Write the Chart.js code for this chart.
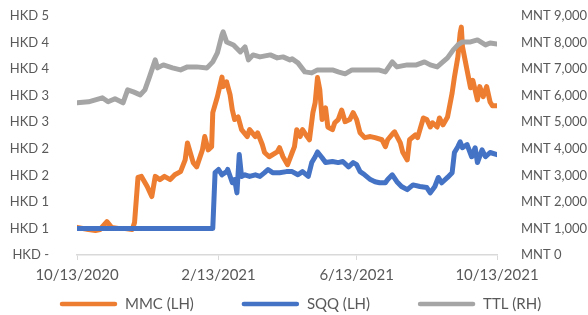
<!DOCTYPE html>
<html>
<head>
<meta charset="utf-8">
<script src="https://cdn.jsdelivr.net/npm/chart.js@4.4.1/dist/chart.umd.min.js"></script>
<style>
  body { margin: 0; background: #fff; }
  #wrap { width: 588px; height: 315px; }
</style>
</head>
<body>
<div id="wrap"><canvas id="chart" width="588" height="315"></canvas></div>
<script>
// days counted from 10/13/2020
const xTickDays = [0, 123, 243, 365];
const xTickLabels = ["10/13/2020", "2/13/2021", "6/13/2021", "10/13/2021"];

const mmcDays = [0,10,16,20,26,30,36,42,48,50,53,56,61,65,68,72,76,81,85,90,94,96,101,104,109,111,114,117,118,122,126,127,130,133,135,137,140,143,148,150,155,157,161,163,167,174,176,179,183,187,189,191,194,196,200,202,205,207,209,211,213,216,218,222,224,227,230,233,237,240,243,246,250,255,259,265,268,270,275,276,281,283,287,289,294,296,301,304,307,309,313,315,318,322,326,328,331,333,334,335,339,342,344,348,350,353,356,359,361,365];
const mmcValues = [0.52,0.48,0.46,0.48,0.63,0.52,0.50,0.50,0.48,0.61,
  1.46,1.48,1.29,1.10,1.48,1.42,1.48,1.42,1.51,1.57,
  1.79,2.11,1.74,1.66,1.98,2.23,1.98,2.04,2.68,2.98,
  3.35,3.17,3.26,3.02,2.73,2.55,2.60,2.36,2.23,2.36,
  2.23,2.30,2.08,1.93,1.85,1.94,2.02,1.85,1.70,1.93,
  2.04,2.36,2.23,2.36,2.23,2.17,2.68,2.87,3.34,3.11,
  2.55,2.77,2.41,2.36,2.49,2.55,2.73,2.51,2.55,2.68,
  2.55,2.30,2.21,2.23,2.21,2.17,2.04,2.17,2.30,2.32,
  2.11,1.94,1.79,2.17,2.26,2.21,2.58,2.55,2.41,2.49,
  2.41,2.58,2.45,2.60,3.05,3.35,3.73,4.18,4.29,3.92,
  3.48,3.15,3.29,2.92,3.17,2.98,3.17,2.88,2.81,2.81];

const sqqDays = [0,118,120,123,126,130,131,135,137,139,141,143,146,150,155,159,163,166,170,176,182,187,192,196,201,204,207,209,213,216,222,227,231,236,240,243,246,250,255,259,263,268,270,274,278,282,287,292,298,304,307,311,314,317,322,326,328,331,333,335,339,343,346,348,352,355,359,365];
const sqqValues = [0.5,0.5,1.55,1.61,1.51,1.57,1.61,1.36,1.42,1.17,1.89,1.48,1.51,1.48,1.51,1.48,1.55,1.61,1.55,1.55,
  1.57,1.57,1.51,1.57,1.48,1.74,1.85,1.94,1.83,1.74,1.76,1.74,1.76,1.66,1.74,1.70,1.57,1.51,1.42,1.38,
  1.36,1.36,1.42,1.51,1.38,1.29,1.23,1.32,1.29,1.27,1.17,1.29,1.46,1.36,1.46,1.55,1.93,2.04,2.13,2.02,
  2.08,1.85,2.02,1.74,1.98,1.85,1.93,1.89];

const ttlDays = [0,10,22,27,33,40,44,49,55,59,63,68,70,75,83,90,96,104,113,118,122,126,127,130,136,142,146,149,153,159,168,174,179,185,187,192,198,204,209,222,227,233,239,250,262,268,274,278,287,295,302,307,313,318,322,327,331,335,342,348,355,359,365];
const ttlValues = [5731,5769,5919,5769,5881,5731,6219,6144,6031,6219,
  6708,7347,7046,7159,7046,6971,7084,7084,7046,7272,
  7610,8287,8400,8024,7911,7648,7836,7347,7535,7460,
  7535,7422,7460,7347,7385,7234,6896,6858,6971,6971,
  6896,6821,6971,6971,6971,6896,7272,7084,7159,7159,
  7272,7159,7084,7272,7422,7723,7911,8024,8024,8099,
  7911,7986,7948];

const FONT = "Lato, 'Liberation Sans', sans-serif";
const TEXT = "#595959";

const toPoints = (days, values) => days.map((d, i) => ({ x: d, y: values[i] }));

const lineStyle = (color) => ({
  borderColor: color,
  backgroundColor: color,
  borderWidth: 5,
  pointRadius: 0,
  tension: 0,
  borderJoinStyle: "round",
  borderCapStyle: "round",
  fill: false,
});

// legend drawn by hand so spacing matches the Excel layout
const bottomLegend = {
  id: "bottomLegend",
  afterDraw(chart) {
    const ctx = chart.ctx;
    const items = [0, 1, 2].map((i) => chart.data.datasets[i]);
    const y = 304;
    let x = 62;
    ctx.save();
    ctx.font = "15px " + FONT;
    ctx.textBaseline = "middle";
    items.forEach((ds) => {
      ctx.strokeStyle = ds.borderColor;
      ctx.lineWidth = 4.5;
      ctx.lineCap = "round";
      ctx.beginPath();
      ctx.moveTo(x, y);
      ctx.lineTo(x + 53, y);
      ctx.stroke();
      ctx.fillStyle = TEXT;
      ctx.fillText(ds.label, x + 63, y);
      x += 63 + ctx.measureText(ds.label).width + 50;
    });
    ctx.restore();
  },
};

const fixY = (w) => (scale) => {
  scale.width = w;
  scale.paddingTop = 0;
  scale.paddingBottom = 0;
};

new Chart(document.getElementById("chart"), {
  type: "line",
  data: {
    datasets: [
      { label: "MMC (LH)", data: toPoints(mmcDays, mmcValues), yAxisID: "yL", order: 2, ...lineStyle("#ED7D31") },
      { label: "SQQ (LH)", data: toPoints(sqqDays, sqqValues), yAxisID: "yL", order: 1, ...lineStyle("#4472C4") },
      { label: "TTL (RH)", data: toPoints(ttlDays, ttlValues), yAxisID: "yR", order: 0, ...lineStyle("#A5A5A5") },
    ],
  },
  options: {
    responsive: false,
    animation: false,
    layout: { padding: { top: 16, left: 0, right: 0, bottom: 0 } },
    plugins: {
      legend: { display: false },
      tooltip: { enabled: false },
    },
    scales: {
      x: {
        type: "linear",
        min: 0,
        max: 365,
        afterBuildTicks: (scale) => {
          scale.ticks = xTickDays.map((v) => ({ value: v }));
        },
        afterFit: (scale) => {
          scale.height = 60;
          scale.paddingLeft = 0;
          scale.paddingRight = 0;
        },
        grid: { drawOnChartArea: false, drawTicks: true, tickLength: 5, color: "#d9d9d9" },
        border: { color: "#d9d9d9", width: 1.5 },
        ticks: {
          autoSkip: false,
          maxRotation: 0,
          padding: 6,
          color: TEXT,
          font: { family: FONT, size: 15 },
          callback: (v) => xTickLabels[xTickDays.indexOf(v)],
        },
      },
      yL: {
        position: "left",
        min: 0,
        max: 4.5,
        afterFit: fixY(77),
        grid: { display: false },
        border: { display: false },
        ticks: {
          stepSize: 0.5,
          padding: 20,
          color: TEXT,
          font: { family: FONT, size: 13 },
          callback: (v) => (v === 0 ? "HKD -" : "HKD " + Math.round(v)),
        },
      },
      yR: {
        position: "right",
        min: 0,
        max: 9000,
        afterFit: fixY(91),
        grid: { display: false },
        border: { display: false },
        ticks: {
          stepSize: 1000,
          padding: 16,
          color: TEXT,
          font: { family: FONT, size: 13 },
          callback: (v) => "MNT " + v.toLocaleString("en-US"),
        },
      },
    },
  },
  plugins: [bottomLegend],
});
</script>
</body>
</html>
